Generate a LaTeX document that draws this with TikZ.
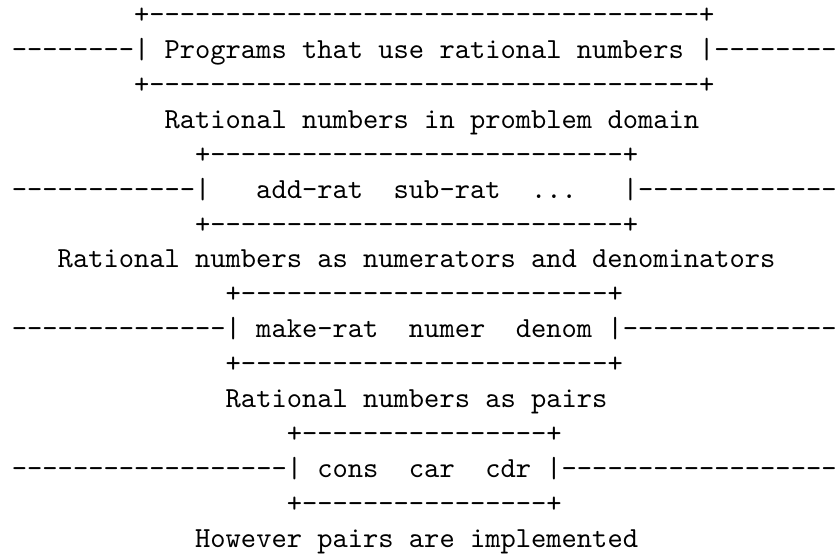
\documentclass[tikz,border=0pt]{standalone}
\usepackage{tikz}

\newcommand{\dashrun}[1]{\foreach \k in {1,...,#1}{-}}

\begin{document}
\frenchspacing
\begin{tikzpicture}[x=5.25pt,y=12pt,
        every node/.style={font=\ttfamily,inner sep=0pt,outer sep=0pt,anchor=base west}]
        \useasboundingbox (-0.78,0.675) rectangle (53.96,-15.2);
        % programs layer
        \node (progtop) at (8,0) {+\dashrun{36}+};
        \node (progs) at (0,-1) {\dashrun{8}|~Programs~that~use~rational~numbers~|\dashrun{8}};
        \node (progbot) at (8,-2) {+\dashrun{36}+};
        \node (domaincap) at (10,-3) {Rational~numbers~in~promblem~domain};
        % add-rat layer
        \node (ratopstop) at (12,-4) {+\dashrun{27}+};
        \node (ratops) at (0,-5) {\dashrun{12}|~~~add-rat~~sub-rat~~...~~~|\dashrun{13}};
        \node (ratopsbot) at (12,-6) {+\dashrun{27}+};
        \node (numdencap) at (3,-7) {Rational~numbers~as~numerators~and~denominators};
        % make-rat layer
        \node (ctortop) at (14,-8) {+\dashrun{24}+};
        \node (ctor) at (0,-9) {\dashrun{14}|~make-rat~~numer~~denom~|\dashrun{14}};
        \node (ctorbot) at (14,-10) {+\dashrun{24}+};
        \node (pairscap) at (14,-11) {Rational~numbers~as~pairs};
        % pairs layer
        \node (pairtop) at (18,-12) {+\dashrun{16}+};
        \node (pairops) at (0,-13) {\dashrun{18}|~cons~~car~~cdr~|\dashrun{18}};
        \node (pairbot) at (18,-14) {+\dashrun{16}+};
        \node (implcap) at (12,-15) {However~pairs~are~implemented};
    \end{tikzpicture}
\end{document}
